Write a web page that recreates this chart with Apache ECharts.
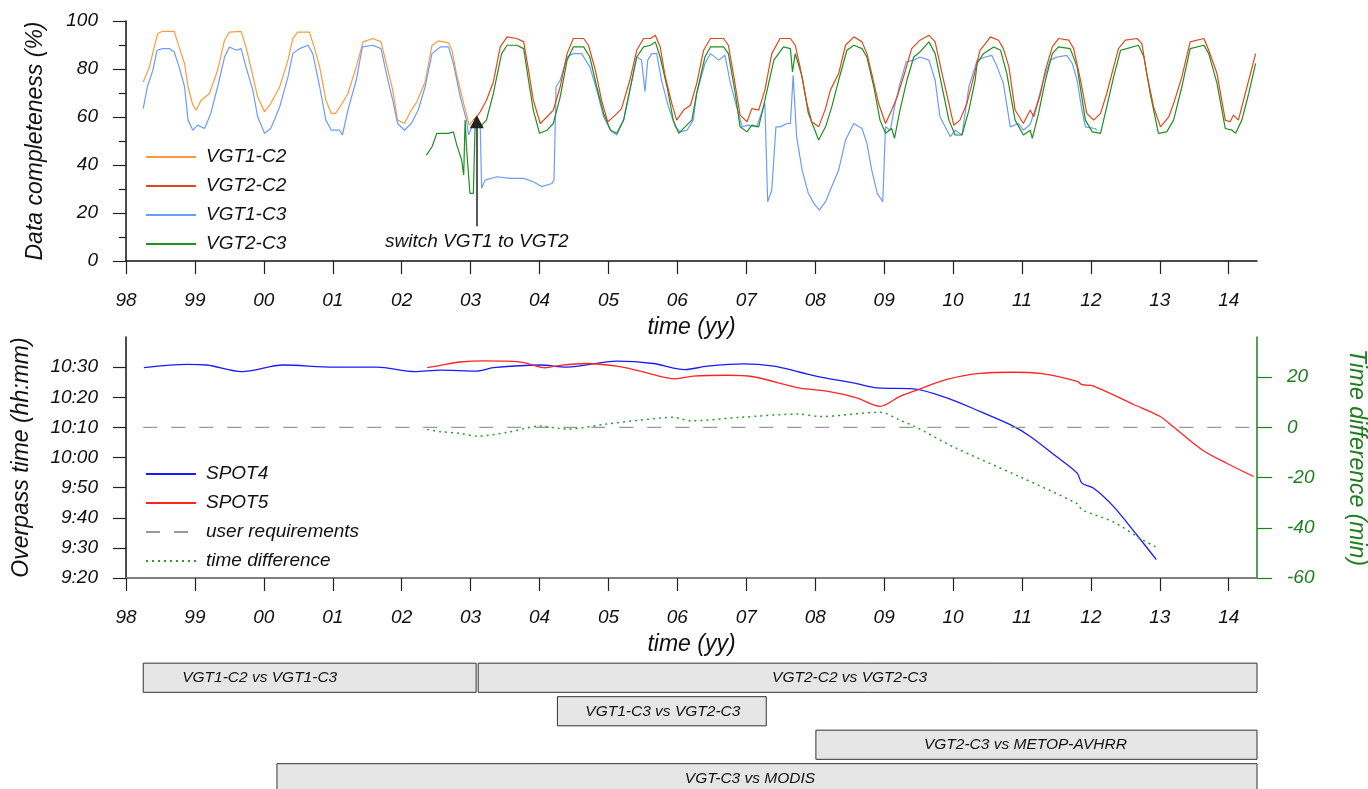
<!DOCTYPE html>
<html>
<head>
<meta charset="utf-8">
<title>VGT data completeness and SPOT overpass time</title>
<script src="https://cdn.jsdelivr.net/npm/echarts@6/dist/echarts.min.js"></script>
<style>
  html, body { margin: 0; padding: 0; background: #fff; }
  #chart { width: 1368px; height: 789px; }
</style>
</head>
<body>
<div id="chart"></div>
<script>
// ---- data: [decimal year, value] ----
const yearTicks = [1998, 1999, 2000, 2001, 2002, 2003, 2004, 2005, 2006, 2007, 2008, 2009, 2010, 2011, 2012, 2013, 2014];

// data completeness (%)
const vgt1c2 = [[1998.25,74.6],[1998.34,80.9],[1998.41,89.2],[1998.46,94.8],[1998.53,95.7],[1998.70,95.7],[1998.77,89.2],[1998.85,82.3],[1998.90,72.6],[1998.97,64.9],[1999.02,62.9],[1999.09,67],[1999.21,69.8],[1999.33,79.5],[1999.43,92],[1999.50,95.4],[1999.67,95.7],[1999.74,89.2],[1999.81,80.9],[1999.91,68.4],[2000.01,62.2],[2000.10,65.6],[2000.23,72.6],[2000.35,83.7],[2000.42,92.7],[2000.49,95.4],[2000.66,95.4],[2000.73,89.2],[2000.81,80.9],[2000.90,67],[2000.98,61.5],[2001.04,61.5],[2001.12,64.9],[2001.22,69.8],[2001.34,80.9],[2001.44,91.3],[2001.58,92.7],[2001.70,91.3],[2001.80,79.5],[2001.87,71.2],[2001.94,58.7],[2002.04,57.3],[2002.14,62.9],[2002.22,66.3],[2002.34,74.6],[2002.44,89.9],[2002.53,91.7],[2002.68,90.9],[2002.73,87.8],[2002.80,77.4],[2002.90,65.6],[2002.98,56.6],[2003.04,58.7]];

const vgt2c2 = [[2003.04,58.7],[2003.09,60.1],[2003.14,62.2],[2003.23,67],[2003.33,74.6],[2003.43,89.2],[2003.53,93.4],[2003.67,92.7],[2003.77,91.3],[2003.84,79.5],[2003.91,67],[2004.01,57.3],[2004.11,60.1],[2004.20,62.9],[2004.30,72.6],[2004.40,86.4],[2004.49,92.7],[2004.64,92.7],[2004.71,89.9],[2004.81,79.5],[2004.90,67],[2004.99,58],[2005.10,60.8],[2005.19,63.5],[2005.31,75.3],[2005.41,87.8],[2005.51,92.7],[2005.61,92.7],[2005.68,94.1],[2005.75,89.2],[2005.82,77.4],[2005.92,65.6],[2005.99,58.7],[2006.09,62.9],[2006.19,64.9],[2006.28,73.9],[2006.38,87.8],[2006.48,92.7],[2006.67,92.7],[2006.74,89.9],[2006.82,76.7],[2006.91,60.8],[2007.01,58],[2007.08,63.5],[2007.18,62.9],[2007.27,71.2],[2007.37,86.4],[2007.49,92.7],[2007.64,92.7],[2007.71,89.9],[2007.78,80.9],[2007.88,65.6],[2007.95,58],[2008.05,55.9],[2008.15,63.5],[2008.22,71.2],[2008.34,78.1],[2008.44,89.9],[2008.56,93.4],[2008.68,91.3],[2008.75,86.4],[2008.82,78.1],[2008.92,65.6],[2009.02,57.3],[2009.11,62.9],[2009.19,68.4],[2009.31,79.5],[2009.40,88.5],[2009.52,92],[2009.65,94.1],[2009.74,91.3],[2009.84,78.1],[2009.94,65.6],[2010.01,56.6],[2010.10,58.7],[2010.20,65.6],[2010.30,76.7],[2010.39,87.8],[2010.47,90.6],[2010.54,93.4],[2010.66,92],[2010.73,88.5],[2010.81,80.9],[2010.90,62.9],[2011.02,57.3],[2011.12,62.9],[2011.17,60.1],[2011.27,69.8],[2011.34,79.5],[2011.44,89.2],[2011.53,92.7],[2011.68,92],[2011.75,88.5],[2011.85,75.3],[2011.94,61.5],[2012.04,58.7],[2012.14,61.5],[2012.23,69.8],[2012.33,80.9],[2012.40,88.5],[2012.50,92],[2012.67,92.7],[2012.74,90.6],[2012.81,78.1],[2012.91,64.2],[2013.01,55.9],[2013.13,60.1],[2013.20,65.6],[2013.32,76.7],[2013.44,91.3],[2013.64,92.7],[2013.71,87.8],[2013.83,78.1],[2013.95,58.7],[2014.02,58],[2014.07,60.8],[2014.14,58.7],[2014.24,69.8],[2014.39,86.4]];

const vgt1c3 = [[1998.25,63.5],[1998.31,72.6],[1998.39,79.5],[1998.45,87.8],[1998.53,88.5],[1998.63,88.5],[1998.70,87.1],[1998.77,80.9],[1998.85,72.6],[1998.90,58.7],[1998.97,54.5],[1999.04,56.6],[1999.14,55.2],[1999.23,61.5],[1999.33,72.6],[1999.43,85],[1999.50,89.2],[1999.60,87.8],[1999.67,88.5],[1999.74,80.9],[1999.84,71.2],[1999.91,60.1],[2000.01,53.2],[2000.10,55.2],[2000.23,64.2],[2000.35,76.7],[2000.42,86.4],[2000.52,88.5],[2000.64,89.9],[2000.71,86.4],[2000.81,72.6],[2000.90,58.7],[2000.98,54.5],[2001.10,54.5],[2001.14,52.5],[2001.22,62.9],[2001.34,75.3],[2001.43,89.2],[2001.58,89.9],[2001.70,88.5],[2001.80,75.3],[2001.87,67],[2001.94,57.3],[2002.04,54.5],[2002.14,57.3],[2002.24,62.9],[2002.34,72.6],[2002.44,86.4],[2002.56,89.2],[2002.68,89.2],[2002.75,82.3],[2002.85,68.4],[2002.94,58.7],[2002.97,52.5],[2003.02,55.9],[2003.09,57.3],[2003.14,55.9],[2003.16,30.3],[2003.21,33.7],[2003.38,35.1],[2003.57,34.4],[2003.77,34.4],[2003.91,33],[2004.03,31],[2004.18,32.3],[2004.21,33.7],[2004.24,72.6],[2004.30,75.3],[2004.40,85],[2004.49,86.4],[2004.61,86.4],[2004.73,80.9],[2004.83,71.2],[2004.93,60.1],[2005.03,54.5],[2005.12,52.5],[2005.22,58.7],[2005.32,72.6],[2005.41,85],[2005.48,83.7],[2005.53,70.5],[2005.57,83.7],[2005.63,86.4],[2005.70,86.4],[2005.77,75.3],[2005.87,64.2],[2005.97,55.9],[2006.04,53.8],[2006.14,54.5],[2006.23,58.7],[2006.28,69.8],[2006.40,82.3],[2006.48,86.4],[2006.60,83.7],[2006.69,85.7],[2006.77,74],[2006.86,64.2],[2006.94,55.9],[2007.03,56.6],[2007.15,55.9],[2007.27,65.6],[2007.31,24.7],[2007.37,29.6],[2007.43,55.9],[2007.49,55.9],[2007.59,57.3],[2007.64,57.3],[2007.68,77.4],[2007.73,51.8],[2007.81,37.9],[2007.90,28.2],[2007.98,24],[2008.06,21.2],[2008.15,24.7],[2008.24,31],[2008.34,37.9],[2008.44,50.4],[2008.56,57.3],[2008.68,55.2],[2008.75,49],[2008.82,37.9],[2008.90,28.2],[2008.98,24.7],[2009.02,55.9],[2009.09,54.5],[2009.16,65.6],[2009.23,74],[2009.32,83],[2009.43,83.7],[2009.52,85],[2009.65,83.7],[2009.74,75.3],[2009.81,60.1],[2009.96,51.8],[2010.03,54.5],[2010.13,52.5],[2010.23,72.6],[2010.35,83.7],[2010.47,85],[2010.56,85.7],[2010.64,80.9],[2010.73,74],[2010.83,55.9],[2010.95,57.3],[2011.02,54.5],[2011.12,57],[2011.22,65.6],[2011.31,75.3],[2011.41,83.7],[2011.51,85],[2011.65,85.7],[2011.73,82.3],[2011.80,75.3],[2011.87,62.9],[2011.92,55.9],[2012.06,55.2],[2012.09,54.5]];

const vgt2c3 = [[2002.36,44.1],[2002.44,47.6],[2002.51,53.2],[2002.61,53.2],[2002.68,53.2],[2002.75,53.8],[2002.80,48.3],[2002.87,42.1],[2002.90,35.8],[2002.92,58.7],[2002.94,47.6],[2002.99,28.2],[2003.04,28.2],[2003.065,55.9],[2003.14,55.9],[2003.23,58.7],[2003.33,69.8],[2003.45,86.4],[2003.53,89.9],[2003.67,89.9],[2003.77,88.5],[2003.84,75.3],[2003.91,62.9],[2004.00,53.2],[2004.11,54.5],[2004.20,57.3],[2004.30,68.4],[2004.40,83.7],[2004.49,89.2],[2004.64,89.2],[2004.73,85],[2004.83,72.6],[2004.93,61.5],[2005.03,54.5],[2005.12,53.2],[2005.22,58.7],[2005.32,72.6],[2005.41,85],[2005.51,89.2],[2005.61,89.9],[2005.68,91.3],[2005.75,85],[2005.85,72.6],[2005.94,58.7],[2006.02,53.2],[2006.11,55.9],[2006.21,58.7],[2006.28,69.8],[2006.40,85],[2006.48,89.2],[2006.67,89.2],[2006.74,86.4],[2006.84,69.8],[2006.91,55.9],[2007.01,53.8],[2007.08,56.6],[2007.18,55.9],[2007.27,67],[2007.40,83.7],[2007.54,89.2],[2007.64,88.5],[2007.67,78.8],[2007.71,86.4],[2007.81,76.7],[2007.90,61.5],[2008.05,50.4],[2008.15,55.9],[2008.24,64.2],[2008.34,75.3],[2008.46,87.8],[2008.56,89.9],[2008.68,88.5],[2008.75,85],[2008.85,72.6],[2008.94,58.7],[2009.02,53.2],[2009.11,55.2],[2009.15,51.1],[2009.23,62.9],[2009.33,75.3],[2009.43,85],[2009.52,87.1],[2009.65,91.3],[2009.74,86.4],[2009.84,72.6],[2009.94,58.7],[2010.03,52.5],[2010.13,52.5],[2010.23,62.9],[2010.32,75.3],[2010.35,82.3],[2010.44,86.4],[2010.59,89.2],[2010.69,87.8],[2010.78,78.1],[2010.90,58.7],[2011.02,52.5],[2011.12,54.5],[2011.15,51.1],[2011.24,61.5],[2011.34,75.3],[2011.44,86.4],[2011.53,89.2],[2011.70,88.5],[2011.80,80.9],[2011.92,58.7],[2012.02,53.8],[2012.14,53.2],[2012.23,64.2],[2012.33,76.7],[2012.43,87.8],[2012.52,88.5],[2012.69,89.9],[2012.77,85],[2012.86,69.8],[2012.98,53.2],[2013.10,53.8],[2013.20,58.7],[2013.32,72.6],[2013.44,88.5],[2013.64,89.9],[2013.71,86.4],[2013.83,74],[2013.95,55.2],[2014.05,54.5],[2014.10,53.2],[2014.19,58.7],[2014.29,69.8],[2014.39,82.3]];

// overpass time, minutes after midnight
const spot4 = [[1998.26,629.8],[1998.88,630.9],[1999.17,630.7],[1999.68,628.5],[2000.28,630.7],[2001.01,630],[2001.64,630],[2002.19,628.5],[2002.56,629],[2003.09,628.7],[2003.33,629.8],[2004.01,630.7],[2004.39,630],[2005.12,632],[2005.65,631.2],[2006.11,629.2],[2006.43,630.3],[2006.96,631.1],[2007.40,630.3],[2007.78,628.3],[2008.12,626.5],[2008.55,624.8],[2008.90,623.1],[2009.43,622.8],[2009.91,619.8],[2010.39,615.3],[2010.83,610.9],[2011.12,607],[2011.50,600.3],[2011.80,594.8],[2011.87,591.5],[2012.04,589.8],[2012.33,583.7],[2012.67,574.2],[2012.95,566.1]];

const spot5 = [[2002.37,629.8],[2002.56,630.6],[2002.85,631.7],[2003.19,632.1],[2003.53,632],[2003.77,631.5],[2004.08,629.8],[2004.30,630.6],[2004.69,631.2],[2005.12,630.3],[2005.46,628.7],[2005.97,626.1],[2006.23,627],[2006.72,627.3],[2007.10,626.8],[2007.76,623.1],[2008.17,622],[2008.60,619.8],[2008.94,617],[2009.23,620.3],[2009.43,622],[2009.91,625.9],[2010.39,627.9],[2010.87,628.3],[2011.26,627.9],[2011.80,625.3],[2011.87,624.2],[2012.04,623.7],[2012.62,617.6],[2013.00,613.7],[2013.20,610.1],[2013.61,602.6],[2013.97,598.1],[2014.36,593.7]];

const userRequirement = [[1998.25,610],[2014.41,610]];

// SPOT4 minus SPOT5 (min)
const timeDiff = [[2002.37,-0.8],[2002.56,-1.7],[2002.85,-2.4],[2003.09,-3.5],[2003.53,-2],[2004.01,0.5],[2004.39,-0.7],[2004.97,1.3],[2005.46,2.9],[2005.94,4],[2006.19,2.6],[2006.91,4],[2007.76,5.3],[2008.07,4.3],[2008.94,6],[2009.23,2.9],[2009.47,0],[2010.00,-7.7],[2010.97,-19.7],[2011.80,-30.4],[2011.87,-32.8],[2012.33,-37.7],[2012.67,-43.5],[2012.95,-47.8]];

const leftTimeTicks = [560, 570, 580, 590, 600, 610, 620, 630];
const rightDiffTicks = [-60, -40, -20, 0, 20];

// comparison periods
const compNames = ['VGT1-C2 vs VGT1-C3', 'VGT2-C2 vs VGT2-C3', 'VGT1-C3 vs VGT2-C3', 'VGT2-C3 vs METOP-AVHRR', 'VGT-C3 vs MODIS'];
const compStart = [1998.25, 2003.11, 2004.26, 2008.01, 2000.19];
const compEnd   = [2003.08, 2014.41, 2007.29, 2014.41, 2014.41];
const compRow   = [0, 0, 1, 2, 3];

const switchYear = 2003.09;

// ---- layout ----
const FONT = '"Liberation Sans", Arial, sans-serif';
const X_MIN = 1998, X_MAX = 2014.41;
const labelShift = [-50, -18, 1, -11, -17];

const tickFont = { fontFamily: FONT, fontStyle: 'italic', fontSize: 19, color: '#111' };
const nameFont = { fontFamily: FONT, fontStyle: 'italic', fontSize: 23, color: '#111' };
const legendText = { fontFamily: FONT, fontStyle: 'italic', fontSize: 19, color: '#111', lineHeight: 20, padding: [0, 0, 0, 5] };
const yy = v => String(Math.round(v) % 100).padStart(2, '0');
const hhmm = v => Math.floor(v / 60) + ':' + String(Math.round(v % 60)).padStart(2, '0');

function timeAxis(gridIndex, lineColor, lineWidth) {
  return {
    type: 'value', gridIndex, min: X_MIN, max: X_MAX,
    name: 'time (yy)', nameLocation: 'middle', nameGap: 55, nameTextStyle: nameFont,
    axisLine: { show: true, onZero: false, lineStyle: { color: lineColor, width: lineWidth } },
    axisTick: { show: true, length: 13, customValues: yearTicks, lineStyle: { color: '#222', width: 1.2 } },
    axisLabel: Object.assign({ margin: 30, customValues: yearTicks, formatter: yy }, tickFont),
    splitLine: { show: false }
  };
}

const lineBase = { type: 'line', showSymbol: false, symbol: 'none', animation: false, silent: true };

const option = {
  animation: false,
  backgroundColor: '#fff',
  grid: [
    { left: 126, top: 21, width: 1131, height: 240, outerBoundsMode: 'none' },
    { left: 126, top: 337, width: 1131, height: 241, outerBoundsMode: 'none' },
    { left: 126, top: 661, width: 1131, height: 134, outerBoundsMode: 'none' }
  ],
  xAxis: [
    timeAxis(0, '#111', 1.5),
    timeAxis(1, '#808080', 2),
    { type: 'value', gridIndex: 2, min: X_MIN, max: X_MAX, show: false }
  ],
  yAxis: [
    {
      type: 'value', gridIndex: 0, min: 0, max: 100, interval: 20,
      name: 'Data completeness (%)', nameLocation: 'middle', nameGap: 79, nameTextStyle: nameFont,
      axisLine: { show: true, onZero: false, lineStyle: { color: '#111', width: 1.5 } },
      axisTick: { show: true, length: 13, lineStyle: { color: '#222', width: 1.2 } },
      minorTick: { show: true, splitNumber: 2, length: 7, lineStyle: { color: '#222', width: 1.2 } },
      axisLabel: Object.assign({ margin: 28 }, tickFont),
      splitLine: { show: false }
    },
    {
      type: 'value', gridIndex: 1, min: 560, max: 640, interval: 10,
      name: 'Overpass time (hh:mm)', nameLocation: 'middle', nameGap: 93, nameTextStyle: nameFont,
      axisLine: { show: true, onZero: false, lineStyle: { color: '#111', width: 1.5 } },
      axisTick: { show: true, length: 13, customValues: leftTimeTicks, lineStyle: { color: '#222', width: 1.2 } },
      axisLabel: Object.assign({ margin: 28, customValues: leftTimeTicks, formatter: hhmm }, tickFont),
      splitLine: { show: false }
    },
    {
      type: 'value', gridIndex: 1, position: 'right', min: -60, max: 36, interval: 20,
      name: 'Time difference (min)', nameLocation: 'middle', nameGap: 88, nameRotate: -90,
      nameTextStyle: Object.assign({}, nameFont, { color: '#1f7f1f' }),
      axisLine: { show: true, onZero: false, lineStyle: { color: '#1f7f1f', width: 1.5 } },
      axisTick: { show: true, length: 15, customValues: rightDiffTicks, lineStyle: { color: '#1f7f1f', width: 1.2 } },
      axisLabel: Object.assign({ margin: 30, customValues: rightDiffTicks }, tickFont, { color: '#1f7f1f' }),
      splitLine: { show: false }
    },
    { type: 'value', gridIndex: 2, min: -0.5, max: 3.5, inverse: true, show: false }
  ],
  legend: [
    {
      data: ['VGT1-C2', 'VGT2-C2', 'VGT1-C3', 'VGT2-C3'],
      orient: 'vertical', left: 140, top: 142, itemWidth: 50, itemHeight: 14, itemGap: 9,
      selectedMode: false, itemStyle: { opacity: 0, borderWidth: 0 },
      textStyle: legendText
    },
    {
      data: ['SPOT4', 'SPOT5', 'user requirements', 'time difference'],
      orient: 'vertical', left: 140, top: 459, itemWidth: 50, itemHeight: 14, itemGap: 9,
      selectedMode: false, itemStyle: { opacity: 0, borderWidth: 0 },
      textStyle: legendText
    }
  ],
  series: [
    Object.assign({}, lineBase, { name: 'VGT1-C2', xAxisIndex: 0, yAxisIndex: 0, data: vgt1c2,
      lineStyle: { color: '#ff9a3c', width: 1.2 }, itemStyle: { color: '#ff9a3c' } }),
    Object.assign({}, lineBase, { name: 'VGT1-C3', xAxisIndex: 0, yAxisIndex: 0, data: vgt1c3,
      lineStyle: { color: '#6b9bff', width: 1.2 }, itemStyle: { color: '#6b9bff' } }),
    Object.assign({}, lineBase, { name: 'VGT2-C3', xAxisIndex: 0, yAxisIndex: 0, data: vgt2c3,
      lineStyle: { color: '#1f8f1f', width: 1.2 }, itemStyle: { color: '#1f8f1f' } }),
    Object.assign({}, lineBase, { name: 'VGT2-C2', xAxisIndex: 0, yAxisIndex: 0, data: vgt2c2, z: 3,
      lineStyle: { color: '#dc4a1c', width: 1.2 }, itemStyle: { color: '#dc4a1c' },
      markLine: {
        silent: true, animation: false,
        symbol: ['none', 'triangle'], symbolSize: [14, 13],
        lineStyle: { color: '#222', width: 1.5, type: 'solid' },
        label: {
          show: true, position: 'start', distance: 6, formatter: 'switch VGT1 to VGT2',
          fontFamily: FONT, fontStyle: 'italic', fontSize: 19, color: '#111'
        },
        data: [[{ coord: [switchYear, 14.5] }, { coord: [switchYear, 58] }]]
      }
    }),
    Object.assign({}, lineBase, { name: 'SPOT4', xAxisIndex: 1, yAxisIndex: 1, data: spot4, smooth: 0.3,
      lineStyle: { color: '#1a1aff', width: 1.3 }, itemStyle: { color: '#1a1aff' } }),
    Object.assign({}, lineBase, { name: 'SPOT5', xAxisIndex: 1, yAxisIndex: 1, data: spot5, smooth: 0.3,
      lineStyle: { color: '#ff2424', width: 1.3 }, itemStyle: { color: '#ff2424' } }),
    Object.assign({}, lineBase, { name: 'user requirements', xAxisIndex: 1, yAxisIndex: 1, data: userRequirement,
      lineStyle: { color: '#999', width: 1.3, type: [14, 14] }, itemStyle: { color: '#999' } }),
    Object.assign({}, lineBase, { name: 'time difference', xAxisIndex: 1, yAxisIndex: 2, data: timeDiff, smooth: 0.3,
      lineStyle: { color: '#2a9d2a', width: 1.5, type: [2, 4] }, itemStyle: { color: '#2a9d2a' } }),
    {
      type: 'custom', xAxisIndex: 2, yAxisIndex: 3, silent: true, animation: false,
      data: compStart.map((s, i) => [s, compEnd[i], compRow[i]]),
      renderItem(params, api) {
        const a = api.coord([api.value(0), api.value(2)]);
        const b = api.coord([api.value(1), api.value(2)]);
        const h = api.size([0, 1])[1] * 0.87;
        const i = params.dataIndex;
        return {
          type: 'group',
          children: [
            { type: 'rect', shape: { x: a[0], y: a[1] - h / 2, width: b[0] - a[0], height: h },
              style: { fill: '#e6e6e6', stroke: '#333', lineWidth: 1 } },
            { type: 'text', style: { text: compNames[i], x: (a[0] + b[0]) / 2 + labelShift[i], y: a[1],
              align: 'center', verticalAlign: 'middle', fill: '#111',
              font: 'italic 15.5px ' + FONT } }
          ]
        };
      }
    }
  ]
};

const chart = echarts.init(document.getElementById('chart'), null, { renderer: 'canvas' });
chart.setOption(option);
</script>
</body>
</html>
